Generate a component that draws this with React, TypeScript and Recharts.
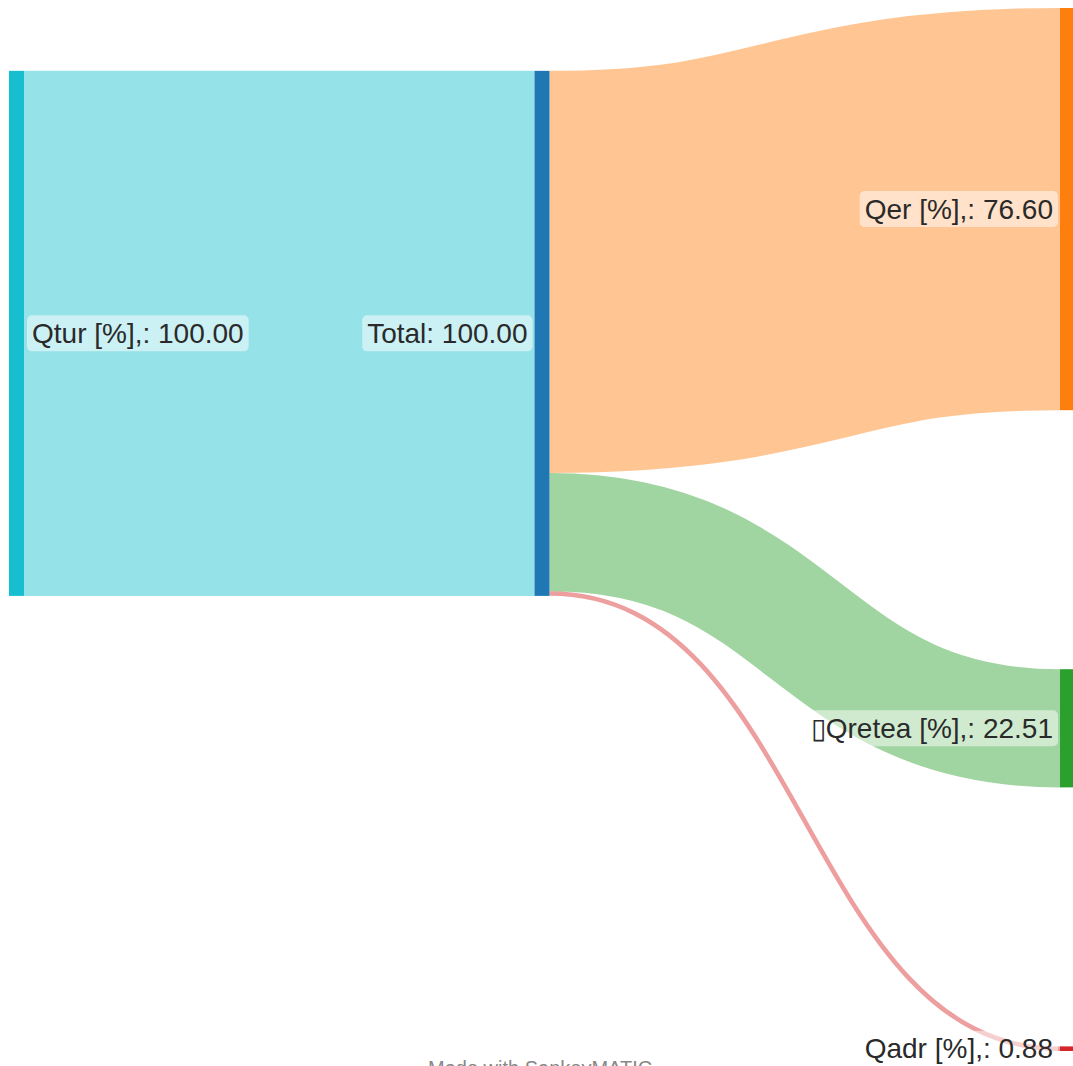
import React from 'react';
import { Sankey } from 'recharts';

const NODE_NAMES = ['Qtur [%],', 'Total', 'Qer [%],', '\u25AFQretea [%],', 'Qadr [%],'];
const LINK_SOURCES = [0, 1, 1, 1];
const LINK_TARGETS = [1, 2, 3, 4];
const LINK_VALUES = [100.0, 76.6, 22.51, 0.88];

const NODE_COLORS = ['#17becf', '#1f77b4', '#ff7f0e', '#2ca02c', '#d62728'];
const LINK_COLORS = ['#17becf', '#ff7f0e', '#2ca02c', '#d62728'];

const FONT = "'Liberation Sans', Arial, sans-serif";
const FONT_SIZE = 28;

const data = {
  nodes: NODE_NAMES.map((name) => ({ name })),
  links: LINK_SOURCES.map((s, i) => ({ source: s, target: LINK_TARGETS[i], value: LINK_VALUES[i] })),
};

let ctx: CanvasRenderingContext2D | null = null;
function measure(text: string): number {
  if (!ctx) ctx = document.createElement('canvas').getContext('2d');
  if (!ctx) return text.length * FONT_SIZE * 0.55;
  ctx.font = `${FONT_SIZE}px ${FONT}`;
  return ctx.measureText(text).width;
}

function NodeShape(props: any) {
  const { x, y, width, height, index, payload } = props;
  const label = `${payload.name}: ${Number(payload.value).toFixed(2)}`;
  const right = x < 100;
  const cy = y + height / 2;
  const tw = measure(label);
  const tx = right ? x + width + 8 : x - 7;
  const bx = right ? tx - 5 : tx - tw - 5;
  return (
    <g>
      <rect x={x} y={y} width={width} height={Math.max(height, 1)} fill={NODE_COLORS[index]} />
      <rect x={bx} y={cy - 18} width={tw + 10} height={36} rx={5} ry={5} fill="#ffffff" fillOpacity={0.5} />
      <text
        x={tx}
        y={cy}
        textAnchor={right ? 'start' : 'end'}
        dominantBaseline="central"
        fontSize={FONT_SIZE}
        fontFamily={FONT}
        fill="#2a2a2a"
      >
        {label}
      </text>
    </g>
  );
}

function LinkShape(props: any) {
  const { sourceX, targetX, sourceY, targetY, sourceControlX, targetControlX, linkWidth, index } = props;
  return (
    <path
      d={`M${sourceX},${sourceY}C${sourceControlX},${sourceY} ${targetControlX},${targetY} ${targetX},${targetY}`}
      fill="none"
      stroke={LINK_COLORS[index]}
      strokeOpacity={0.45}
      strokeWidth={linkWidth}
    />
  );
}

export default function App() {
  return (
    <div
      style={{
        position: 'fixed',
        left: 0,
        top: 0,
        width: 1073,
        height: 1066,
        overflow: 'hidden',
        background: '#ffffff',
      }}
    >
      <Sankey
        width={1080}
        height={1066}
        data={data}
        nodeWidth={15}
        nodePadding={259}
        linkCurvature={0.5}
        iterations={32}
        margin={{ top: 8, left: 9, right: 5, bottom: 15 }}
        node={<NodeShape />}
        link={<LinkShape />}
      />
      <div
        style={{
          position: 'absolute',
          left: 428,
          top: 1058,
          fontFamily: FONT,
          fontSize: 20,
          lineHeight: '20px',
          color: '#888888',
          whiteSpace: 'nowrap',
        }}
      >
        Made with SankeyMATIC
      </div>
    </div>
  );
}
